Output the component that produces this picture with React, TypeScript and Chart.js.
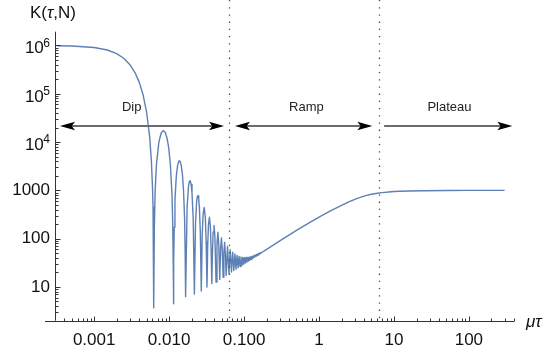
import React, { useEffect, useRef } from 'react';
import { Chart, registerables } from 'chart.js';

Chart.register(...registerables);

const FONT = '"Liberation Sans", Arial, Helvetica, sans-serif';

// ---- data (tau, K) ----
// initial fall from N^2
const dipTau = [3.2e-4, 5e-4, 0.001, 0.0015, 0.002, 0.0025, 0.003, 0.0035, 0.004, 0.0045, 0.005, 0.0055, 0.0058, 0.006, 0.0061, 0.0062];
const dipK = [990000, 977000, 910000, 806000, 679000, 538000, 400000, 275000, 172000, 94200, 42000, 12800, 4120, 1135, 448, 66];

// first ten oscillation lobes (zero, rising side, peak, falling side)
const lobeTau = [
  0.00625, 0.006354, 0.00651, 0.00677, 0.00729, 0.00781, 0.00833, 0.00885, 0.00937, 0.00989, 0.0104, 0.01092, 0.01118, 0.011336,
  0.01144, 0.011543, 0.0117, 0.01196, 0.01247, 0.01299, 0.0135, 0.01402, 0.01453, 0.01505, 0.01556, 0.01608, 0.01634,
  0.01659, 0.01737, 0.01814, 0.01865, 0.01916, 0.01968, 0.02019, 0.02096,
  0.02173, 0.0225, 0.02327, 0.02379, 0.0243, 0.02481, 0.02532, 0.02609,
  0.02686, 0.02763, 0.0284, 0.02943, 0.03046, 0.03122,
  0.03199, 0.03276, 0.03353, 0.03456, 0.03558, 0.03635,
  0.03712, 0.03789, 0.03866, 0.03969, 0.04071, 0.04148,
  0.04225, 0.04353, 0.04481, 0.04609,
  0.04738, 0.04866, 0.04994, 0.05122,
  0.0525, 0.05378, 0.05506, 0.05634,
];
const lobeK = [
  3.7, 174, 980, 3400, 9860, 15200, 17300, 15950, 12170, 7490, 3390, 810, 196, 32,
  4.5, 32, 173, 621, 1971, 3304, 4062, 4014, 3258, 2125, 1016, 258, 66,
  6.3, 440, 1218, 1547, 1576, 1318, 884, 253,
  7.1, 207, 581, 750, 777, 661, 452, 135,
  8.2, 116, 324, 442, 265, 83,
  10, 75, 202, 278, 171, 57,
  11.7, 53, 137, 188, 119, 43,
  12.7, 80, 136, 69,
  14.2, 63, 104, 56,
  15.8, 52, 83, 47,
];

// dense band of small lobes (alternating minimum / maximum)
const bandTau = [0.05763, 0.06019, 0.06275, 0.06532, 0.06788, 0.07044, 0.073, 0.07557, 0.07813, 0.08069, 0.08325, 0.08581, 0.08838, 0.09094, 0.0935, 0.09606, 0.09863, 0.10119, 0.10375, 0.10631, 0.10887, 0.11144, 0.114, 0.11656, 0.11912, 0.12168, 0.12425, 0.12681, 0.12937, 0.13193, 0.1345, 0.13706, 0.1396, 0.14218, 0.1447, 0.1473, 0.1499, 0.1524, 0.155, 0.1576, 0.1601, 0.1627, 0.1652, 0.1678, 0.1704];
const bandK = [17.3, 69, 18.8, 59, 20.4, 52.6, 21.9, 48.1, 23.4, 45, 25, 43, 26.5, 41.7, 28, 41, 29.6, 40.7, 31.1, 40.7, 32.7, 41, 34.2, 41.5, 35.7, 42, 37.3, 43, 38.8, 43.8, 40.4, 44.8, 41.9, 45.8, 43.4, 47, 45, 48.1, 46.5, 49.3, 48, 50.5, 49.6, 51.6, 51.1];

// ramp and plateau
const rampTau = [0.2, 0.3, 0.5, 0.7, 1, 1.4, 2, 2.5, 3, 3.55, 4.2, 5, 6, 7, 8.5, 10, 12, 16, 25, 50, 100, 300];
const rampK = [60, 90, 148, 203, 280, 371, 491, 576, 650, 717, 777, 829, 873, 900, 927, 944, 958, 971, 984, 995, 1000, 1000];

// axis ticks
const xMajorExp = [-3, -2, -1, 0, 1, 2];
const xMajorLabels = ['0.001', '0.010', '0.100', '1', '10', '100'];
const yPlainExp = [1, 2, 3];
const yPlainLabels = ['10', '100', '1000'];
const yPowerExp = [4, 5, 6];

// annotations (data coordinates)
const boundaryTau = [0.0628, 6.28];
const arrowLevel = 22000;
const arrowFrom = [3.5e-4, 0.0757, 7.4];
const arrowTo = [0.054, 5.15, 380];
const arrowDouble = [true, true, false];
const regionNames = ['Dip', 'Ramp', 'Plateau'];
const regionTau = [0.00316, 0.68, 55];
const regionLevel = 45000;

const X_MIN = 3.2e-4, X_MAX = 400, Y_MIN = 2, Y_MAX = 1.93e6;

function zip(t: number[], k: number[]) {
  const n = Math.min(t.length, k.length);
  const out: { x: number; y: number }[] = [];
  for (let i = 0; i < n; i++) out.push({ x: t[i], y: k[i] });
  return out;
}

function logTicks(min: number, max: number) {
  const out: { value: number; major: boolean }[] = [];
  for (let e = Math.floor(Math.log10(min)); e <= Math.ceil(Math.log10(max)); e++) {
    for (let m = 1; m <= 9; m++) {
      const v = parseFloat((m * Math.pow(10, e)).toPrecision(6));
      if (v >= min && v <= max) out.push({ value: v, major: m === 1 });
    }
  }
  return out;
}

function drawHead(ctx: CanvasRenderingContext2D, tipX: number, y: number, dir: number) {
  const L = 15, H = 4.3, N = 0.78 * L;
  ctx.fillStyle = '#000';
  ctx.beginPath();
  ctx.moveTo(tipX, y);
  ctx.lineTo(tipX - dir * L, y - H);
  ctx.lineTo(tipX - dir * N, y);
  ctx.lineTo(tipX - dir * L, y + H);
  ctx.closePath();
  ctx.fill();
}

const overlay = {
  id: 'overlay',
  afterDatasetsDraw(chart: any) {
    const { ctx, chartArea: ca } = chart;
    const xs = chart.scales.x, ys = chart.scales.y;
    ctx.save();
    // dotted boundaries
    ctx.strokeStyle = '#4a4a4a';
    ctx.lineWidth = 1.3;
    ctx.setLineDash([1.3, 5.9]);
    for (const v of boundaryTau) {
      const px = Math.round(xs.getPixelForValue(v)) + 0.5;
      ctx.beginPath();
      ctx.moveTo(px, 0);
      ctx.lineTo(px, ca.bottom);
      ctx.stroke();
    }
    ctx.setLineDash([]);
    // arrows
    const ay = Math.round(ys.getPixelForValue(arrowLevel));
    for (let i = 0; i < arrowFrom.length; i++) {
      const x0 = xs.getPixelForValue(arrowFrom[i]);
      const x1 = xs.getPixelForValue(arrowTo[i]);
      const both = arrowDouble[i];
      ctx.strokeStyle = '#6b6b6b';
      ctx.lineWidth = 2;
      ctx.beginPath();
      ctx.moveTo(both ? x0 + 11 : x0, ay);
      ctx.lineTo(x1 - 11, ay);
      ctx.stroke();
      drawHead(ctx, x1, ay, 1);
      if (both) drawHead(ctx, x0, ay, -1);
    }
    // region names
    ctx.fillStyle = '#222';
    ctx.font = `13px ${FONT}`;
    ctx.textAlign = 'center';
    ctx.textBaseline = 'alphabetic';
    const ly = ys.getPixelForValue(regionLevel);
    regionNames.forEach((n, i) => ctx.fillText(n, xs.getPixelForValue(regionTau[i]), ly));
    ctx.restore();
  },
  afterDraw(chart: any) {
    const { ctx, chartArea: ca } = chart;
    const xs = chart.scales.x, ys = chart.scales.y;
    ctx.save();
    ctx.strokeStyle = '#333';
    ctx.lineWidth = 1;
    // axes
    const by = Math.round(ca.bottom) + 0.5;
    const lx = Math.round(ca.left) + 0.5;
    ctx.beginPath();
    ctx.moveTo(ca.left - 10, by);
    ctx.lineTo(ca.right, by);
    ctx.moveTo(lx, ca.top);
    ctx.lineTo(lx, ca.bottom);
    ctx.stroke();
    // ticks, pointing inside
    ctx.beginPath();
    for (const t of xs.ticks) {
      const px = Math.round(xs.getPixelForValue(t.value)) + 0.5;
      const len = t.major ? 5 : 3;
      ctx.moveTo(px, by);
      ctx.lineTo(px, by - len);
    }
    for (const t of ys.ticks) {
      const py = Math.round(ys.getPixelForValue(t.value)) + 0.5;
      const len = t.major ? 5 : 3;
      ctx.moveTo(lx, py);
      ctx.lineTo(lx + len, py);
    }
    ctx.stroke();
    // power-of-ten labels with superscripts
    ctx.fillStyle = '#111';
    ctx.textAlign = 'right';
    ctx.textBaseline = 'alphabetic';
    const right = ys.right - 5;
    for (const e of yPowerExp) {
      const py = ys.getPixelForValue(Math.pow(10, e));
      ctx.font = `12px ${FONT}`;
      const sup = String(e);
      const sw = ctx.measureText(sup).width;
      ctx.fillText(sup, right, py + 1.3);
      ctx.font = `17px ${FONT}`;
      ctx.fillText('10', right - sw + 0.5, py + 7.9);
    }
    // axis titles
    ctx.textAlign = 'left';
    ctx.font = `17px ${FONT}`;
    let tx = 30;
    const ty = 17.5;
    ctx.fillText('K(', tx, ty);
    tx += ctx.measureText('K(').width;
    ctx.font = `italic 17px ${FONT}`;
    ctx.fillText('τ', tx, ty);
    tx += ctx.measureText('τ').width;
    ctx.font = `17px ${FONT}`;
    ctx.fillText(',N)', tx, ty);
    ctx.font = `italic 17px ${FONT}`;
    ctx.fillText('μτ', 526, 327);
    ctx.restore();
  },
};

export default function App() {
  const ref = useRef<HTMLCanvasElement | null>(null);
  useEffect(() => {
    document.body.style.margin = '0';
    if (!ref.current) return;
    const points = [...zip(dipTau, dipK), ...zip(lobeTau, lobeK), ...zip(bandTau, bandK), ...zip(rampTau, rampK)];
    const chart = new Chart(ref.current, {
      type: 'line',
      data: {
        datasets: [
          {
            data: points,
            borderColor: '#5e81b5',
            borderWidth: 1.4,
            pointRadius: 0,
            fill: false,
            tension: 0,
            borderJoinStyle: 'round',
          } as any,
        ],
      },
      options: {
        animation: false,
        responsive: false,
        maintainAspectRatio: false,
        layout: { padding: { left: 0, right: 30, top: 31.7, bottom: 0 } },
        plugins: { legend: { display: false }, tooltip: { enabled: false } },
        scales: {
          x: {
            type: 'logarithmic',
            min: X_MIN,
            max: X_MAX,
            afterBuildTicks: (s: any) => {
              s.ticks = logTicks(X_MIN, X_MAX);
            },
            afterFit: (s: any) => {
              s.height = 32.3;
            },
            grid: { display: false, drawTicks: false },
            border: { display: false },
            ticks: {
              autoSkip: false,
              maxRotation: 0,
              padding: 9,
              color: '#111',
              font: { family: FONT, size: 17 },
              callback: (v: any, i: number, ticks: any[]) => {
                if (!ticks[i].major) return '';
                const idx = xMajorExp.indexOf(Math.round(Math.log10(Number(v))));
                return idx >= 0 ? xMajorLabels[idx] : '';
              },
            },
          },
          y: {
            type: 'logarithmic',
            min: Y_MIN,
            max: Y_MAX,
            afterBuildTicks: (s: any) => {
              s.ticks = logTicks(Y_MIN, Y_MAX);
            },
            afterFit: (s: any) => {
              s.width = 55;
            },
            grid: { display: false, drawTicks: false },
            border: { display: false },
            ticks: {
              autoSkip: false,
              padding: 5,
              color: '#111',
              font: { family: FONT, size: 17 },
              callback: (v: any, i: number, ticks: any[]) => {
                if (!ticks[i].major) return '';
                const idx = yPlainExp.indexOf(Math.round(Math.log10(Number(v))));
                return idx >= 0 ? yPlainLabels[idx] : '';
              },
            },
          },
        },
      } as any,
      plugins: [overlay],
    });
    return () => chart.destroy();
  }, []);
  return (
    <div style={{ width: 544, height: 353 }}>
      <canvas ref={ref} width={544} height={353} style={{ display: 'block' }} />
    </div>
  );
}
